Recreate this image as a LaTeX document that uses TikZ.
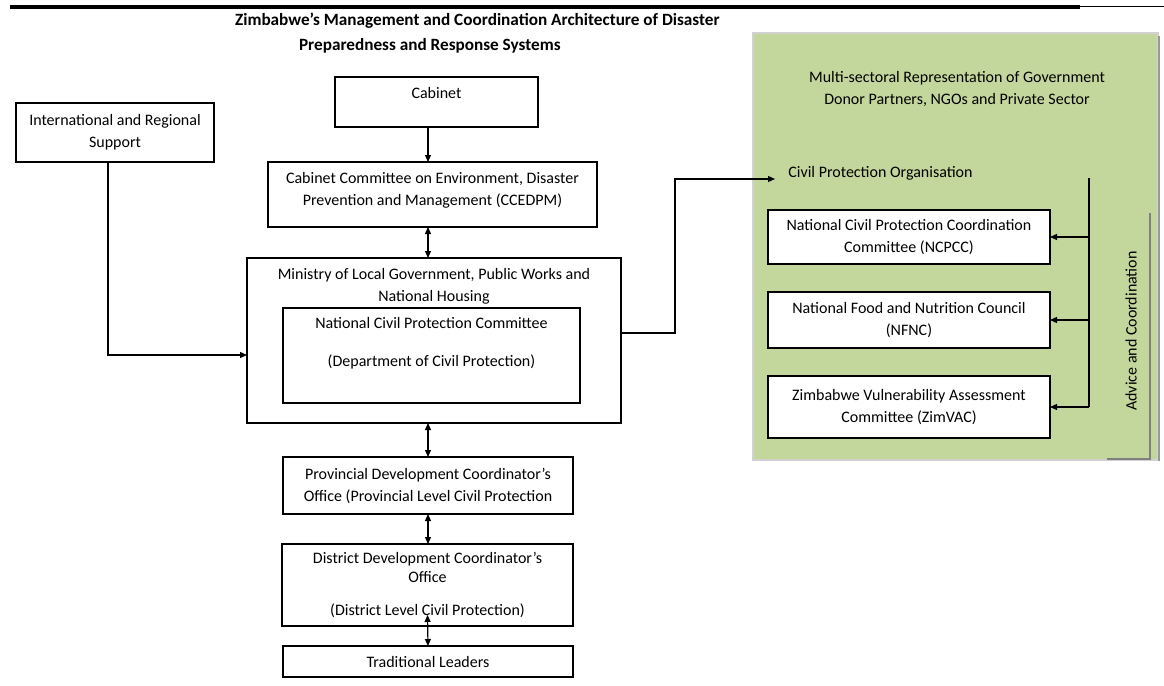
\documentclass[tikz,border=0pt]{standalone}
\usepackage{fontspec}
\setmainfont{Carlito}
\usetikzlibrary{arrows.meta}
\definecolor{panelgreen}{HTML}{C3D69B}
\begin{document}
\begin{tikzpicture}[x=0.5pt, y=-0.5pt,
  every node/.style={font=\fontsize{8}{11}\selectfont},
  heading/.style={anchor=west, font=\bfseries\fontsize{8.6}{11}\selectfont},
  box/.style={draw, fill=white, line width=0.6pt, align=center, inner sep=0pt, outer sep=0pt},
  toptext/.style={anchor=north, align=center, inner sep=0pt, yshift=-5pt},
  link/.style={line width=0.6pt, -{Triangle[length=3.5pt,width=3pt]}},
  twoway/.style={line width=0.6pt, {Triangle[length=3.5pt,width=3pt]}-{Triangle[length=3.5pt,width=3pt]}}]
  \useasboundingbox (0,0) rectangle (1164,686);

  % heading rule and title
  \draw[line width=2pt] (10,7) -- (1080,7);
  \draw[line width=0.5pt] (1080,6) -- (1164,6);
  \node[heading] (title1) at (228,21)
    {Zimbabwe’s Management and Coordination Architecture of Disaster};
  \node[heading] (title2) at (292,46)
    {Preparedness and Response Systems};

  % green panel
  \fill[panelgreen] (753,33) rectangle (1158,460);
  \draw[black!18, line width=1pt] (753,33) rectangle (1158,460);
  \draw[black!40, line width=1pt] (1159,36) -- (1159,461);
  \draw[black!50, line width=1pt] (1150,213) -- (1150,459) -- (1107,459);

  % left column
  \coordinate (spine) at (428,0);
  \node[box, minimum width=99pt, minimum height=29.5pt] (intl) at (115,132.5)
    {International and Regional\\Support};
  \node[box, minimum width=101.5pt, minimum height=25pt,
    label={[toptext]north:Cabinet}] (cabinet) at (436.5,102) {};
  \node[box, minimum width=164.5pt, minimum height=32.5pt,
    label={[toptext]north:Cabinet Committee on Environment, Disaster\\Prevention and Management (CCEDPM)}] (ccedpm) at (432.5,194.5) {};
  \node[box, minimum width=187pt, minimum height=82.5pt,
    label={[toptext]north:Ministry of Local Government, Public Works and\\National Housing}] (ministry) at (434,340.5) {};
  \node[box, minimum width=148.5pt, minimum height=47.5pt,
    label={[toptext, yshift=0.5pt]north:National Civil Protection Committee\\[8pt](Department of Civil Protection)}] (ncpc) at (431.5,355.5) {};
  \node[box, minimum width=145pt, minimum height=28.5pt] (prov) at (428,485.5)
    {Provincial Development Coordinator’s\\Office (Provincial Level Civil Protection};
  \node[box, minimum width=145.5pt, minimum height=41pt] (district) at (427.5,585)
    {District Development Coordinator’s\\[-1.5pt]Office\\[5.5pt](District Level Civil Protection)};
  \node[box, minimum width=145pt, minimum height=15.5pt] (trad) at (428,661.5)
    {Traditional Leaders};

  % right panel
  \node[align=center] (multi) at (957,89)
    {Multi-sectoral Representation of Government\\Donor Partners, NGOs and Private Sector};
  \coordinate (cpoin) at (775,179);
  \node[anchor=west, inner sep=0pt] (cpo) at (788,173) {Civil Protection Organisation};
  \node[box, minimum width=141pt, minimum height=27pt] (ncpcc) at (909,237)
    {National Civil Protection Coordination\\Committee (NCPCC)};
  \node[box, minimum width=141pt, minimum height=28pt] (nfnc) at (909,320)
    {National Food and Nutrition Council\\(NFNC)};
  \node[box, minimum width=141pt, minimum height=31pt] (zimvac) at (909,407)
    {Zimbabwe Vulnerability Assessment\\Committee (ZimVAC)};
  \node[rotate=90] (advice) at (1131,331) {Advice and Coordination};

  % connectors
  \draw[link] (cabinet.south -| spine) -- (ccedpm.north -| spine);
  \draw[twoway] (ccedpm.south -| spine) -- (ministry.north -| spine);
  \draw[twoway] (ministry.south -| spine) -- (prov.north -| spine);
  \draw[twoway] (prov.south -| spine) -- (district.north -| spine);
  \draw[twoway] ([yshift=5.5pt]district.south) -- (trad.north);
  \draw[link] ([xshift=-3.5pt]intl.south) |- ([yshift=-7.25pt]ministry.west);
  \draw[link] ([yshift=3.75pt]ministry.east) -- ++(54,0) |- (cpoin);
  \coordinate (bus) at (1089,178);
  \draw[line width=0.6pt] (bus) -- (bus |- zimvac.east);
  \foreach \n in {ncpcc,nfnc,zimvac}
    \draw[link] (bus |- \n.east) -- (\n.east);
\end{tikzpicture}
\end{document}
